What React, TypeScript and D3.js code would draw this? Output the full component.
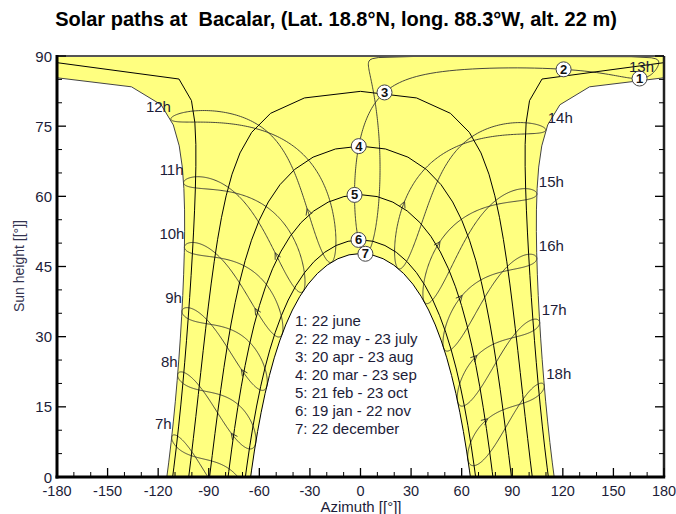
import React from 'react';
import * as d3 from 'd3';

// ---------- data ----------
const TITLE = 'Solar paths at  Bacalar, (Lat. 18.8°N, long. 88.3°W, alt. 22 m)';
const LATITUDE = 18.8;
const LONGITUDE = -88.3;
const TIME_ZONE = -5;
const DATE_IDS = ['1', '2', '3', '4', '5', '6', '7'];
const DATE_DAYS = [173, 142, 110, 79, 52, 19, 356]; // day of year of first date of each pair
const LEGEND_LINES = [
  '1: 22 june',
  '2: 22 may - 23 july',
  '3: 20 apr - 23 aug',
  '4: 20 mar - 23 sep',
  '5: 21 feb - 23 oct',
  '6: 19 jan - 22 nov',
  '7: 22 december',
];
const HOURS = [7, 8, 9, 10, 11, 12, 13, 14, 15, 16, 17, 18];
const CIRCLE_HOUR = 13;
const ARROW_DAY = 56;
const X_TICKS = [-180, -150, -120, -90, -60, -30, 0, 30, 60, 90, 120, 150, 180];
const Y_TICKS = [0, 15, 30, 45, 60, 75, 90];

// ---------- solar geometry ----------
const RAD = Math.PI / 180;
type P = { az: number; alt: number };

function declination(n: number) {
  const B = (2 * Math.PI * (n - 1)) / 365;
  return (
    (0.006918 - 0.399912 * Math.cos(B) + 0.070257 * Math.sin(B) - 0.006758 * Math.cos(2 * B) +
      0.000907 * Math.sin(2 * B) - 0.002697 * Math.cos(3 * B) + 0.00148 * Math.sin(3 * B)) / RAD
  );
}
function equationOfTime(n: number) {
  const B = (2 * Math.PI * (n - 1)) / 365;
  return 229.18 * (0.000075 + 0.001868 * Math.cos(B) - 0.032077 * Math.sin(B) - 0.014615 * Math.cos(2 * B) - 0.040849 * Math.sin(2 * B));
}
function sunPos(decDeg: number, hDeg: number): P {
  const phi = LATITUDE * RAD, d = decDeg * RAD, h = hDeg * RAD;
  const sinAlt = Math.sin(phi) * Math.sin(d) + Math.cos(phi) * Math.cos(d) * Math.cos(h);
  const alt = Math.asin(Math.max(-1, Math.min(1, sinAlt))) / RAD;
  const az = Math.atan2(Math.sin(h), Math.sin(phi) * Math.cos(h) - Math.cos(phi) * Math.tan(d)) / RAD;
  return { az, alt };
}
function hourAngle(legal: number, n: number) {
  const solar = legal + (4 * (LONGITUDE - 15 * TIME_ZONE) + equationOfTime(n)) / 60;
  return 15 * (solar - 12);
}
function dayHalves(n: number): { am: P[]; pm: P[] } {
  const dec = declination(n);
  const h0 = Math.acos(-Math.tan(LATITUDE * RAD) * Math.tan(dec * RAD)) / RAD;
  const hs: number[] = [-h0];
  for (let h = Math.ceil(-h0 / 5) * 5; h < 0; h += 5) if (h > -h0 + 0.01) hs.push(h);
  hs.push(0);
  const am = hs.map((h) => {
    const p = sunPos(dec, h);
    if (h === 0 && Math.abs(p.az) > 90) p.az = -180;
    return p;
  });
  const pm = hs.slice().reverse().map((h) => {
    const p = sunPos(dec, -h);
    if (h === 0 && Math.abs(p.az) > 90) p.az = 180;
    return p;
  });
  return { am, pm };
}
function hourLine(hour: number): P[] {
  const pts: P[] = [];
  for (let n = 1; n <= 366; n++) {
    const day = n === 366 ? 1 : n;
    const p = sunPos(declination(day), hourAngle(hour, day));
    if (pts.length) {
      const prev = pts[pts.length - 1].az;
      while (p.az - prev > 180) p.az -= 360;
      while (p.az - prev < -180) p.az += 360;
    }
    pts.push(p);
  }
  return pts;
}

export default function App() {
  const W = 676, H = 514;
  const L = 57, R = 664, T = 56, B = 477;
  const x = d3.scaleLinear().domain([-180, 180]).range([L, R]);
  const y = d3.scaleLinear().domain([0, 90]).range([B, T]);
  const line = (off: number) => d3.line<P>().x((d) => x(d.az + off)).y((d) => y(d.alt));

  const days = DATE_DAYS.map((n) => dayHalves(n));
  const june = days[0], dec = days[6];
  const fillPts: P[] = [
    ...june.am,
    { az: -180, alt: 90 },
    { az: 180, alt: 90 },
    ...june.pm,
    ...dec.pm.slice().reverse(),
    ...dec.am.slice().reverse(),
  ];

  const hourLines = HOURS.map((h) => hourLine(h));
  const arrows = HOURS.map((h) => {
    const dd = declination(ARROW_DAY);
    const p = sunPos(dd, hourAngle(h, ARROW_DAY));
    const a = sunPos(declination(ARROW_DAY - 1), hourAngle(h, ARROW_DAY - 1));
    const b = sunPos(declination(ARROW_DAY + 1), hourAngle(h, ARROW_DAY + 1));
    const px = x(p.az), py = y(p.alt);
    let dx = x(b.az) - x(a.az), dy = y(b.alt) - y(a.alt);
    const len = Math.hypot(dx, dy) || 1;
    dx /= len; dy /= len;
    const wing = (ang: number) => {
      const c = Math.cos(ang), s = Math.sin(ang);
      const wx = -(dx * c - dy * s) * 7, wy = -(dx * s + dy * c) * 7;
      return [px + wx, py + wy];
    };
    const w1 = wing(0.45), w2 = wing(-0.45);
    return { visible: p.alt > 1, d: `M${w1[0]},${w1[1]}L${px},${py}L${w2[0]},${w2[1]}` };
  });

  const circles = DATE_DAYS.map((n, i) => {
    const p = sunPos(declination(n), hourAngle(CIRCLE_HOUR, n));
    return { id: DATE_IDS[i], cx: x(p.az), cy: y(p.alt) };
  });

  const hourLabels = HOURS.map((h) => {
    const n = DATE_DAYS[0];
    const p = sunPos(declination(n), hourAngle(h, n));
    const px = x(p.az), py = y(p.alt);
    if (h < 13) return { h, x: px, y: py - 8, anchor: 'end' };
    return { h, x: Math.min(px + 2, x(180) - 35), y: py - 7, anchor: 'start' };
  });

  const font = 'Liberation Sans, Arial, Helvetica, sans-serif';
  const txt = '#1c1c38';
  const yMinor = d3.range(5, 90, 5).filter((v) => v % 15 !== 0);
  const xMinor = d3.range(-170, 180, 10).filter((v) => v % 30 !== 0);

  return (
    <svg width={W} height={H} style={{ position: 'absolute', left: 0, top: 0, background: '#fff' }} fontFamily={font}>
      <defs>
        <clipPath id="plot">
          <rect x={L} y={T} width={R - L} height={B - T} />
        </clipPath>
      </defs>
      <text x={336} y={26} textAnchor="middle" fontSize={20} fontWeight="bold" fill="#000" style={{ whiteSpace: 'pre' }}>
        {TITLE}
      </text>
      <rect x={L} y={T} width={R - L} height={B - T} fill="#fff" />
      <g clipPath="url(#plot)">
        <path d={line(0)(fillPts) + 'Z'} fill="#ffff80" stroke="none" />
        {hourLines.map((pts, i) => (
          <g key={i}>
            {[-360, 0, 360].map((off) => (
              <path key={off} d={line(off)(pts) || ''} fill="none" stroke="#333" strokeWidth={0.9} />
            ))}
          </g>
        ))}
        {arrows.map((a, i) => (a.visible ? <path key={i} d={a.d} fill="none" stroke="#333" strokeWidth={0.9} /> : null))}
        {days.map((dd, i) => (
          <g key={i}>
            <path d={line(0)(dd.am) || ''} fill="none" stroke={i === 0 ? '#444' : '#000'} strokeWidth={1} />
            <path d={line(0)(dd.pm) || ''} fill="none" stroke={i === 0 ? '#444' : '#000'} strokeWidth={1} />
          </g>
        ))}
        {circles.map((c) => (
          <g key={c.id}>
            <circle cx={c.cx} cy={c.cy} r={7.5} fill="#fff" stroke="#444" strokeWidth={1} />
            <text x={c.cx} y={c.cy + 4.5} textAnchor="middle" fontSize={13} fontWeight="bold" fill="#111">
              {c.id}
            </text>
          </g>
        ))}
      </g>
      {hourLabels.map((l) => (
        <text key={l.h} x={l.x} y={l.y} textAnchor={l.anchor as any} fontSize={15} fill={txt}>
          {l.h}h
        </text>
      ))}
      {LEGEND_LINES.map((s, i) => (
        <text key={i} x={295} y={326 + i * 18} fontSize={15} fill={txt}>
          {s}
        </text>
      ))}
      {/* frame */}
      <line x1={L} y1={T} x2={R} y2={T} stroke="#555" strokeWidth={2} />
      <line x1={R} y1={T} x2={R} y2={B} stroke="#222" strokeWidth={2.5} />
      {/* y ticks */}
      {Y_TICKS.map((v) => (
        <g key={v}>
          <line x1={L} x2={L + 9} y1={y(v)} y2={y(v)} stroke="#000" strokeWidth={1.3} />
          <line x1={R} x2={R - 9} y1={y(v)} y2={y(v)} stroke="#000" strokeWidth={1.3} />
          <text x={52} y={y(v) + 5.5} textAnchor="end" fontSize={15} fill={txt}>
            {v}
          </text>
        </g>
      ))}
      {yMinor.map((v) => (
        <g key={v}>
          <line x1={L} x2={L + 5} y1={y(v)} y2={y(v)} stroke="#000" strokeWidth={1} />
          <line x1={R} x2={R - 5} y1={y(v)} y2={y(v)} stroke="#000" strokeWidth={1} />
        </g>
      ))}
      {X_TICKS.map((v) => (
        <g key={v}>
          <line x1={x(v)} x2={x(v)} y1={B} y2={B - 9} stroke="#000" strokeWidth={1.3} />
          <text x={x(v)} y={495.5} textAnchor="middle" fontSize={14.5} fill={txt}>
            {v}
          </text>
        </g>
      ))}
      {xMinor.map((v) => (
        <line key={v} x1={x(v)} x2={x(v)} y1={B} y2={B - 5} stroke="#000" strokeWidth={1} />
      ))}
      <line x1={L} y1={T - 1} x2={L} y2={B + 1.5} stroke="#000" strokeWidth={3} />
      <line x1={L - 1.5} y1={B} x2={R + 1.2} y2={B} stroke="#000" strokeWidth={3} />
      <text x={361} y={512} textAnchor="middle" fontSize={15} fill={txt}>
        Azimuth [[°]]
      </text>
      <text transform={`translate(23.5,266) rotate(-90)`} textAnchor="middle" fontSize={14} fill="#333350">
        Sun height [[°]]
      </text>
    </svg>
  );
}
